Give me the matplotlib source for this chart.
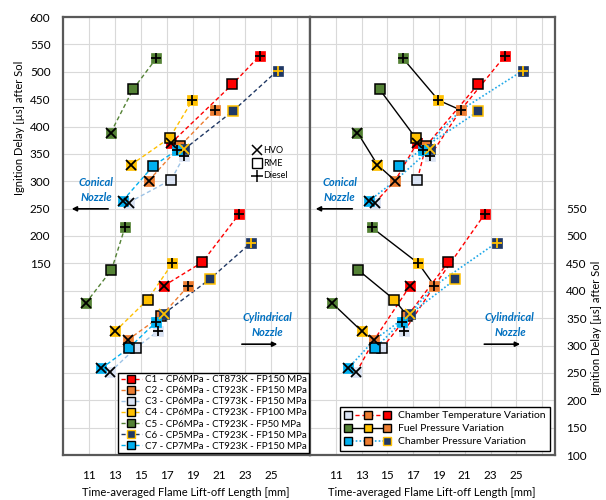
import numpy as np
import matplotlib
matplotlib.use("Agg")
import matplotlib.pyplot as plt
from matplotlib.lines import Line2D
from matplotlib.legend_handler import HandlerBase

plt.rcParams['font.family'] = ['Lato', 'DejaVu Sans']

# --- datos ---
cases = ["C1", "C2", "C3", "C4", "C5", "C6", "C7"]
case_labels = [
    "C1 - CP6MPa - CT873K - FP150 MPa",
    "C2 - CP6MPa - CT923K - FP150 MPa",
    "C3 - CP6MPa - CT973K - FP150 MPa",
    "C4 - CP6MPa - CT923K - FP100 MPa",
    "C5 - CP6MPa - CT923K - FP50 MPa",
    "C6 - CP5MPa - CT923K - FP150 MPa",
    "C7 - CP7MPa - CT923K - FP150 MPa",
]
fuels = ["HVO", "RME", "Diesel"]

# tobera cónica (eje izquierdo)
con_hvo_x = [17.28, 15.60, 14.05, 14.23, 12.68, 18.30, 13.58]
con_hvo_y = [369, 301, 261, 330, 389, 358, 264]
con_rme_x = [22.03, 17.98, 17.33, 17.20, 14.39, 22.06, 15.94]
con_rme_y = [477, 364, 303, 379, 468, 428, 328]
con_die_x = [24.12, 20.69, 18.31, 18.96, 16.19, 25.50, 17.77]
con_die_y = [529, 430, 346, 448, 525, 502, 357]

# tobera cilíndrica (eje derecho)
cyl_hvo_x = [16.76, 13.97, 12.60, 13.02, 10.74, 16.76, 11.95]
cyl_hvo_y = [409, 310, 251, 326, 377, 358, 258]
cyl_rme_x = [19.71, 16.56, 14.62, 15.52, 12.73, 20.28, 14.05]
cyl_rme_y = [452, 354, 296, 384, 438, 421, 295]
cyl_die_x = [22.55, 18.65, 16.30, 17.41, 13.77, 23.48, 16.17]
cyl_die_y = [540, 409, 326, 450, 516, 488, 343]

# grupos de variación (índices de casos)
temp_group = [2, 1, 0]    # C3 -> C2 -> C1
fuelp_group = [4, 3, 1]   # C5 -> C4 -> C2
press_group = [6, 1, 5]   # C7 -> C2 -> C6

fills = ["#FF0000", "#ED7D31", "#DAE3F3", "#FFC000", "#548235", "#203864", "#00B0F0"]
line_cols = ["#FF0000", "#ED7D31", "#9DC3E6", "#FFC000", "#548235", "#203864", "#00B0F0"]
rme_edge = ["k", "k", "k", "k", "k", "#FFC000", "k"]
sym_col = ["k", "k", "k", "k", "k", "#FFC000", "k"]

W, H = 606, 500
fig = plt.figure(figsize=(W / 100, H / 100), dpi=100)
ax1 = fig.add_axes([63 / W, 45 / H, 247 / W, 438 / H])
ax2 = fig.add_axes([310 / W, 45 / H, 245 / W, 438 / H])
ax1t = ax1.twinx()
ax2t = ax2.twinx()

DASH = (0, (3, 2))
DOT = (0, (1, 1.3))


def draw_markers(ax, xs_all, ys_all):
    for i in range(len(cases)):
        for f in range(3):
            x, y = xs_all[f][i], ys_all[f][i]
            if f == 1:
                ax.plot(x, y, "s", ms=7, mfc=fills[i], mec=rme_edge[i], mew=1.1, zorder=4)
            else:
                ax.plot(x, y, "s", ms=7, mfc=fills[i], mec=fills[i], mew=0.5, zorder=4)
                ax.plot(x, y, "x" if f == 0 else "+", ms=7, color=sym_col[i], mew=1.3, zorder=5)


def draw_by_case(ax, xs_all, ys_all):
    for i in range(len(cases)):
        ax.plot([xs_all[f][i] for f in range(3)], [ys_all[f][i] for f in range(3)],
                ls=DASH, lw=1.0, color=line_cols[i], zorder=3)


def draw_by_group(ax, xs_all, ys_all):
    styles = [(temp_group, "#FF0000", DASH, 1.0),
              (fuelp_group, "k", "-", 1.0),
              (press_group, "#1FA8E8", DOT, 1.2)]
    for grp, col, ls, lw in styles:
        for f in range(3):
            ax.plot([xs_all[f][i] for i in grp], [ys_all[f][i] for i in grp],
                    ls=ls, lw=lw, color=col, zorder=3)


con_x = [con_hvo_x, con_rme_x, con_die_x]
con_y = [con_hvo_y, con_rme_y, con_die_y]
cyl_x = [cyl_hvo_x, cyl_rme_x, cyl_die_x]
cyl_y = [cyl_hvo_y, cyl_rme_y, cyl_die_y]

draw_by_case(ax1, con_x, con_y)
draw_by_case(ax1t, cyl_x, cyl_y)
draw_markers(ax1, con_x, con_y)
draw_markers(ax1t, cyl_x, cyl_y)

draw_by_group(ax2, con_x, con_y)
draw_by_group(ax2t, cyl_x, cyl_y)
draw_markers(ax2, con_x, con_y)
draw_markers(ax2t, cyl_x, cyl_y)

# --- ejes ---
xt = np.arange(9, 28, 2)
xt_lab = ["" if v in (9, 27) else str(v) for v in xt]
yt = np.arange(-200, 601, 50)
for ax in (ax1, ax2):
    ax.set_xlim(9, 28)
    ax.set_ylim(-200, 600)
    ax.set_xticks(xt)
    ax.set_xticklabels(xt_lab)
    ax.set_yticks(yt)
    ax.set_axisbelow(True)
    ax.grid(color="#D9D9D9", lw=0.8)
    ax.tick_params(length=0, labelsize=8.5, pad=11, colors="#000000")
    for s in ax.spines.values():
        s.set_color("#595959")
        s.set_linewidth(1.6)
ax1.set_yticklabels([str(v) if v >= 150 else "" for v in yt])
ax1.tick_params(axis="y", pad=9)
ax2.set_yticklabels([])

for axt in (ax1t, ax2t):
    axt.set_ylim(100, 900)
    axt.set_yticks(np.arange(100, 901, 50))
    axt.tick_params(length=0, labelsize=8.5, pad=8)
    for s in axt.spines.values():
        s.set_visible(False)
ax1t.set_yticklabels([])
ax2t.set_yticklabels([str(v) if v <= 550 else "" for v in np.arange(100, 901, 50)])

# títulos de ejes
fig.text(186 / W, 1 - 493 / H, "Time-averaged Flame Lift-off Length [mm]", ha="center", va="center", fontsize=8)
fig.text(432 / W, 1 - 493 / H, "Time-averaged Flame Lift-off Length [mm]", ha="center", va="center", fontsize=8)
fig.text(20 / W, 1 - 128 / H, "Ignition Delay [µs] after Sol", rotation=90, ha="center", va="center", fontsize=8)
fig.text(597 / W, 1 - 328 / H, "Ignition Delay [µs] after Sol", rotation=90, ha="center", va="center", fontsize=8)

# textos de tobera
blue = "#0070C0"
for ax, cx, a0, a1 in ((ax1t, 0.134, 0.194, 0.024), (ax2t, 0.122, 0.184, 0.012)):
    ax.text(cx, 0.605, "Conical\nNozzle", transform=ax.transAxes, ha="center", va="center",
            color=blue, fontsize=8, fontweight="bold", fontstyle="italic", linespacing=1.4)
    ax.annotate("", xy=(a1, 0.562), xytext=(a0, 0.562), xycoords="axes fraction",
                arrowprops=dict(arrowstyle="-|>", color="k", lw=1.2, mutation_scale=7))
for ax, cx, a0, a1 in ((ax1t, 0.826, 0.713, 0.879), (ax2t, 0.816, 0.70, 0.869)):
    ax.text(cx, 0.297, "Cylindrical\nNozzle", transform=ax.transAxes, ha="center", va="center",
            color=blue, fontsize=8, fontweight="bold", fontstyle="italic", linespacing=1.4)
    ax.annotate("", xy=(a1, 0.253), xytext=(a0, 0.253), xycoords="axes fraction",
                arrowprops=dict(arrowstyle="-|>", color="k", lw=1.2, mutation_scale=7))

# leyenda de combustibles
fuel_marks = [dict(marker="x", ms=7, color="k", mew=1.1),
              dict(marker="s", ms=7, mfc="white", mec="k", mew=1.0),
              dict(marker="+", ms=8, color="k", mew=1.1)]
for k, (name, mk) in enumerate(zip(fuels, fuel_marks)):
    yy = 0.696 - k * 0.0295
    ax1t.plot([0.785], [yy], transform=ax1t.transAxes, ls="none", zorder=6, **mk)
    ax1t.text(0.812, yy, name, transform=ax1t.transAxes, ha="left", va="center", fontsize=6.5,
              zorder=6)

# leyenda de casos
case_handles = [Line2D([], [], color=line_cols[i], ls=DASH, lw=1.0, marker="s", ms=6,
                       mfc=fills[i], mec=rme_edge[i], mew=1.0) for i in range(len(cases))]
leg1 = ax1t.legend(case_handles, case_labels, loc="lower right", bbox_to_anchor=(0.997, 0.004),
                   fontsize=7, handlelength=2.2, handletextpad=0.3, labelspacing=0.22,
                   borderpad=0.25, borderaxespad=0, fancybox=False, framealpha=1,
                   edgecolor="k")
leg1.get_frame().set_linewidth(1.0)
leg1.set_zorder(10)


# leyenda de variaciones
class Trio:
    def __init__(self, color, ls, lw, mfcs, mecs):
        self.color, self.ls, self.lw, self.mfcs, self.mecs = color, ls, lw, mfcs, mecs


class TrioHandler(HandlerBase):
    def create_artists(self, legend, h, xdescent, ydescent, width, height, fontsize, trans):
        y = height / 2 - ydescent
        xs = [-xdescent + width * f for f in (0.08, 0.5, 0.92)]
        arts = [Line2D(xs, [y] * 3, color=h.color, ls=h.ls, lw=h.lw, transform=trans)]
        for xx, fc, ec in zip(xs, h.mfcs, h.mecs):
            arts.append(Line2D([xx], [y], marker="s", ms=6, mfc=fc, mec=ec, mew=1.0,
                               ls="none", transform=trans))
        return arts


var_handles = [
    Trio("#FF0000", DASH, 1.0, [fills[i] for i in temp_group], ["k", "k", "k"]),
    Trio("k", "-", 1.0, [fills[i] for i in fuelp_group], ["k", "k", "k"]),
    Trio("#1FA8E8", DOT, 1.2, [fills[i] for i in press_group], ["k", "k", "#FFC000"]),
]
var_labels = ["Chamber Temperature Variation", "Fuel Pressure Variation", "Chamber Pressure Variation"]
leg2 = ax2t.legend(var_handles, var_labels, handler_map={Trio: TrioHandler()},
                   loc="lower right", bbox_to_anchor=(0.98, 0.009), fontsize=7.5,
                   handlelength=4.4, handletextpad=0.7, labelspacing=0.35, borderpad=0.45,
                   borderaxespad=0, fancybox=False, framealpha=1, edgecolor="k")
leg2.get_frame().set_linewidth(1.0)
leg2.set_zorder(10)

fig.savefig("out.png", dpi=100)
